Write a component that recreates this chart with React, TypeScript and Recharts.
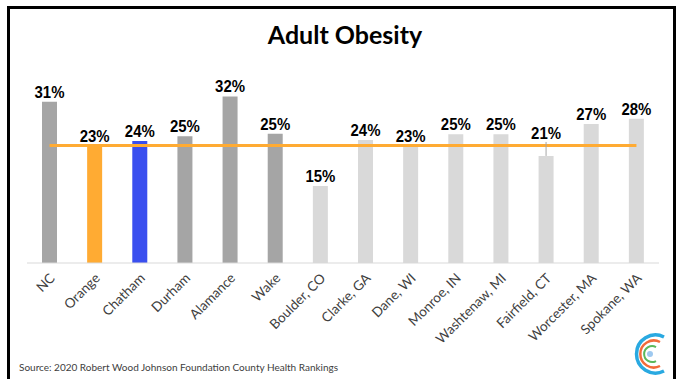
import { ComposedChart, Bar, Line, XAxis, YAxis, Cell, LabelList } from "recharts";

const counties = [
  "NC",
  "Orange",
  "Chatham",
  "Durham",
  "Alamance",
  "Wake",
  "Boulder, CO",
  "Clarke, GA",
  "Dane, WI",
  "Monroe, IN",
  "Washtenaw, MI",
  "Fairfield, CT",
  "Worcester, MA",
  "Spokane, WA",
];
const obesity = [31.2, 22.7, 23.6, 24.5, 32.2, 25.0, 14.9, 23.8, 22.7, 24.9, 24.9, 20.7, 26.9, 27.9];
// Orange County reference line
const orangeLine = [22.7, 22.7, 22.7, 22.7, 22.7, 22.7, 22.7, 22.7, 22.7, 22.7, 22.7, 22.7, 22.7, 22.7];

const DARK = "#a5a5a5";
const LIGHT = "#d9d9d9";
const ORANGE = "#ffab33";
const BLUE = "#3a4fef";
const barColors = [DARK, ORANGE, BLUE, DARK, DARK, DARK, LIGHT, LIGHT, LIGHT, LIGHT, LIGHT, LIGHT, LIGHT, LIGHT];

const data = counties.map((name, i) => ({ name, value: obesity[i], line: orangeLine[i] }));

const LABEL_FONT = "'Liberation Sans', Arial, sans-serif";
const TEXT_FONT = "Lato, 'Open Sans', sans-serif";

function ValueLabel(props: any) {
  const { x, y, width, value, index } = props;
  const cx = x + width / 2;
  const lifted = counties[index] === "Fairfield, CT";
  const ty = lifted ? y - 17 : y - 4;
  return (
    <g>
      {lifted && <line x1={cx} x2={cx} y1={y - 14} y2={y} stroke="#a6a6a6" strokeWidth={1} />}
      <g transform={`translate(${cx},${ty}) scale(0.88,1)`}>
        <text x={0} y={0} textAnchor="middle" fontFamily={LABEL_FONT} fontWeight="bold" fontSize={17} fill="#000">
          {Math.round(value)}%
        </text>
      </g>
    </g>
  );
}

function CountyTick(props: any) {
  const { x, y, payload } = props;
  return (
    <g transform={`translate(${x + 6},${y + 8})`}>
      <text transform="rotate(-45)" textAnchor="end" fontFamily={TEXT_FONT} fontSize={13.5} fill="#404040">
        {payload.value}
      </text>
    </g>
  );
}

function Logo() {
  return (
    <svg width={48} height={50} style={{ position: "absolute", left: 624, top: 329 }}>
      <path d="M 40 8 A 19 19 0 1 0 40 42" fill="none" stroke="#29a9e1" strokeWidth={3.5} />
      <path d="M 36 13 A 13.5 13.5 0 1 0 36 37" fill="none" stroke="#f26b3a" strokeWidth={2.5} />
      <path d="M 32 18 A 8 8 0 1 0 32 32" fill="none" stroke="#5cb85c" strokeWidth={2} />
      <circle cx={26} cy={25} r={3} fill="#9ec9f0" />
    </svg>
  );
}

export default function App() {
  return (
    <div style={{ position: "absolute", left: 0, top: 0, width: 683, height: 379, overflow: "hidden", background: "#fff" }}>
      <div
        style={{
          position: "absolute",
          left: 7,
          top: 6,
          width: 663,
          height: 400,
          border: "3px solid #000",
        }}
      />
      <div
        style={{
          position: "absolute",
          left: 0,
          width: 690,
          top: 19,
          textAlign: "center",
          fontFamily: TEXT_FONT,
          fontWeight: "bold",
          fontSize: 25,
          color: "#000",
        }}
      >
        Adult Obesity
      </div>
      <div style={{ position: "absolute", left: 0, top: 0 }}>
        <ComposedChart width={683} height={379} data={data} margin={{ top: 82, right: 24, left: 27, bottom: 0 }}>
          <YAxis hide domain={[0, 35]} />
          <XAxis
            dataKey="name"
            interval={0}
            height={116}
            tickLine={false}
            axisLine={{ stroke: "#d9d9d9", strokeWidth: 1 }}
            tick={<CountyTick />}
          />
          <Bar dataKey="value" barSize={15} isAnimationActive={false}>
            {data.map((d, i) => (
              <Cell key={d.name} fill={barColors[i]} />
            ))}
            <LabelList dataKey="value" content={<ValueLabel />} />
          </Bar>
          <Line dataKey="line" type="linear" stroke={ORANGE} strokeWidth={3} dot={false} activeDot={false} isAnimationActive={false} />
        </ComposedChart>
      </div>
      <div
        style={{
          position: "absolute",
          left: 19,
          top: 361,
          fontFamily: TEXT_FONT,
          fontSize: 10,
          color: "#404040",
        }}
      >
        Source: 2020 Robert Wood Johnson Foundation County Health Rankings
      </div>
      <Logo />
    </div>
  );
}
